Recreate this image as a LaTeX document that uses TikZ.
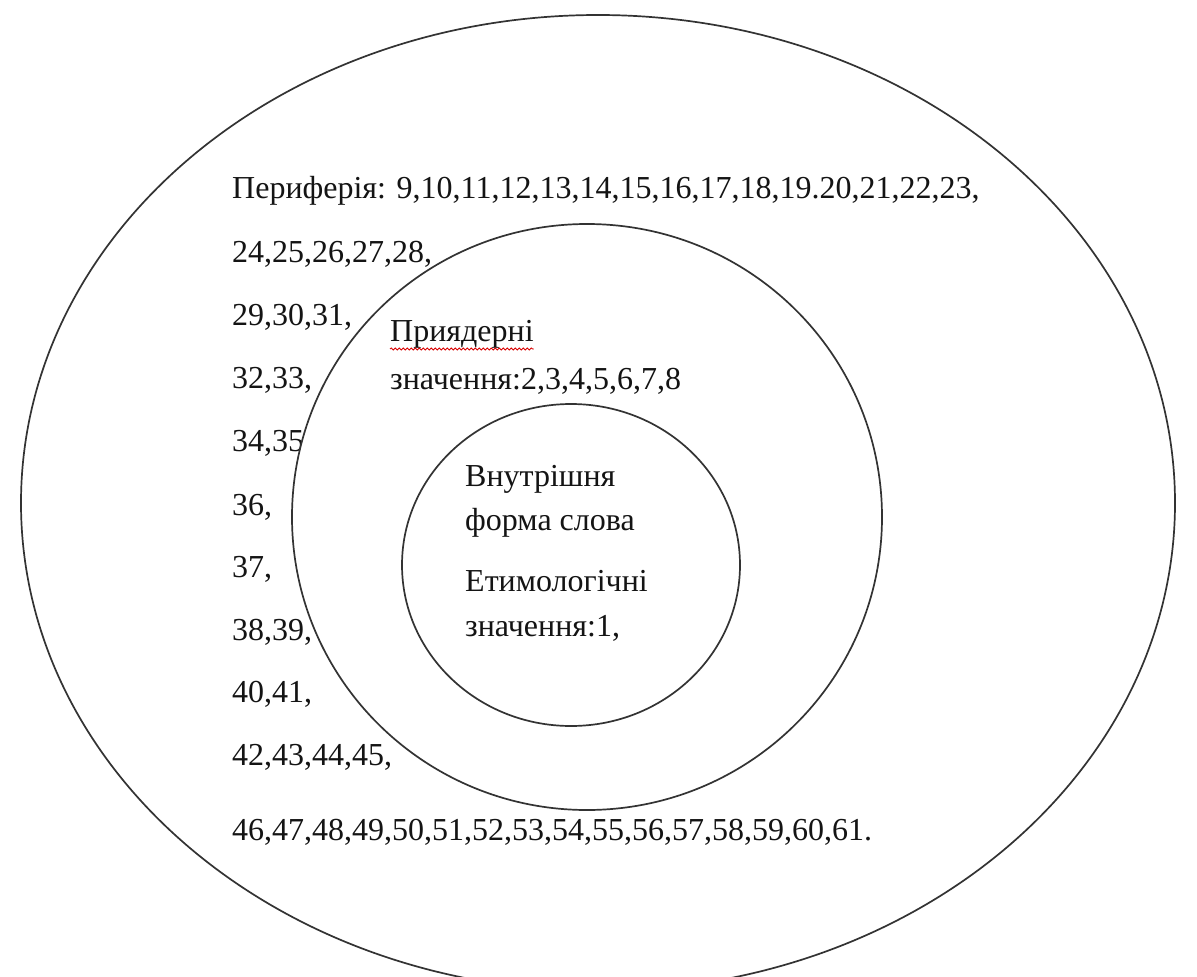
\documentclass[tikz,border=0pt]{standalone}
\usepackage{fontspec}
\setmainfont{Liberation Serif}
\usetikzlibrary{shapes.geometric,decorations.pathmorphing}

\begin{document}
\begin{tikzpicture}[x=1pt,y=-1pt,
  ring/.style={draw=black!80, line width=1.7pt, ellipse, inner sep=0pt},
  lbl/.style={anchor=base west, inner sep=0pt, text=black!92,
              font=\fontsize{32}{38}\selectfont},
  squiggle/.style={draw=red!85!black, line width=0.8pt,
                   decorate, decoration={snake, amplitude=1.1pt, segment length=4pt}}]

\useasboundingbox (0,0) rectangle (1197,977);
\fill[white] (0,0) rectangle (1197,977);

% outer zone: the periphery
\node[ring, minimum width=1154pt, minimum height=976pt] (outer) at (598,503) {};

\node[lbl] (p1)  at (232,198) {Периферія: 9,10,11,12,13,14,15,16,17,18,19.20,21,22,23,};
\node[lbl] (p2)  at (232,262) {24,25,26,27,28,};
\node[lbl] (p3)  at (232,325) {29,30,31,};
\node[lbl] (p4)  at (232,388) {32,33,};
\node[lbl] (p5)  at (232,451) {34,35};
\node[lbl] (p6)  at (232,515) {36,};
\node[lbl] (p7)  at (232,577) {37,};
\node[lbl] (p8)  at (232,640) {38,39,};
\node[lbl] (p9)  at (232,702) {40,41,};
\node[lbl] (p10) at (232,765) {42,43,44,45,};
\node[lbl] (p11) at (232,840) {46,47,48,49,50,51,52,53,54,55,56,57,58,59,60,61.};

% middle zone: near-core meanings
\node[ring, fill=white, minimum width=590pt, minimum height=586pt] (middle) at (587,517) {};

\node[lbl] (m1) at (390,341) {Приядерні};
\node[lbl] (m2) at (390,389) {значення:2,3,4,5,6,7,8};
\draw[squiggle] ([yshift=-8pt]m1.base west) -- ([yshift=-8pt]m1.base east);

% core: inner form of the word
\node[ring, minimum width=338pt, minimum height=322pt] (inner) at (571,565) {};

\node[lbl] (c1) at (465,486) {Внутрішня};
\node[lbl] (c2) at (465,530) {форма слова};
\node[lbl] (c3) at (465,591) {Етимологічні};
\node[lbl] (c4) at (465,636) {значення:1,};

\end{tikzpicture}
\end{document}
